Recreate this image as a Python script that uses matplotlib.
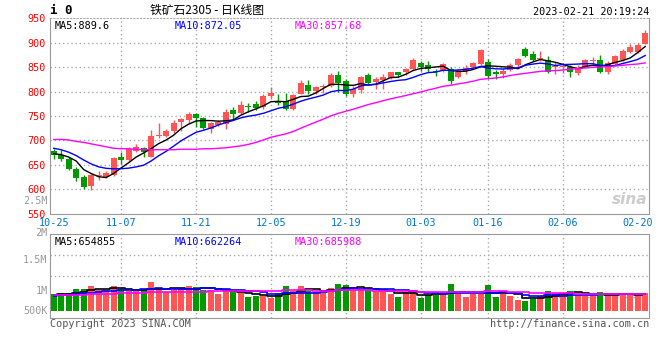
import matplotlib
matplotlib.use('Agg')
import matplotlib.pyplot as plt
from matplotlib.transforms import blended_transform_factory
import numpy as np
import pandas as pd

plt.rcParams['font.family'] = ['DejaVu Sans Mono', 'Noto Sans CJK SC']

# trading days of the contract window (exchange closed on these weekdays)
holidays = ['2023-01-02', '2023-01-23', '2023-01-24', '2023-01-25', '2023-01-26', '2023-01-27']
days = pd.bdate_range('2022-10-25', '2023-02-21')
days = days[~days.isin(pd.to_datetime(holidays))]

open_ = [679, 670, 662, 641, 626, 607, 627, 626, 629, 666,
         661, 679, 685, 667, 710, 709, 719, 738, 742, 755,
         746, 724, 732, 734, 762, 757, 771, 775, 768, 790,
         779, 780, 765, 796, 813, 802, 809, 812, 834, 822,
         795, 804, 834, 820, 824, 828, 839, 839, 847, 859,
         855, 843, 845, 847, 829, 843, 851, 856, 860, 839,
         835, 845, 854, 887, 877, 867, 864, 850, 851, 851,
         838, 850, 863, 865, 841, 856, 864, 880, 880, 898]
high = [683, 680, 667, 645, 629, 634, 638, 638, 667, 677,
        687, 692, 687, 722, 736, 723, 742, 745, 759, 757,
        747, 737, 741, 764, 769, 780, 776, 780, 794, 810,
        794, 798, 795, 824, 824, 812, 815, 837, 842, 826,
        811, 832, 838, 829, 836, 841, 841, 849, 869, 863,
        862, 847, 859, 850, 847, 855, 860, 886, 866, 844,
        849, 858, 869, 891, 882, 883, 872, 861, 858, 855,
        854, 866, 870, 874, 863, 875, 886, 897, 900, 926]
low = [663, 658, 640, 618, 600, 599, 620, 624, 627, 652,
       657, 676, 667, 667, 706, 708, 716, 720, 736, 728,
       723, 715, 729, 723, 742, 755, 759, 762, 765, 784,
       773, 762, 762, 794, 794, 795, 798, 810, 800, 790,
       788, 798, 814, 806, 806, 825, 830, 834, 844, 843,
       840, 832, 839, 815, 828, 835, 848, 853, 826, 825,
       827, 843, 850, 870, 863, 862, 837, 836, 837, 829,
       833, 848, 852, 837, 836, 854, 862, 878, 878, 897]
close = [670, 662, 642, 623, 605, 630, 629, 634, 665, 661,
         683, 687, 676, 709, 712, 720, 736, 743, 755, 745,
         725, 735, 737, 759, 755, 773, 769, 767, 790, 797,
         777, 765, 792, 818, 801, 810, 811, 834, 818, 794,
         806, 830, 818, 826, 830, 839, 834, 847, 865, 851,
         847, 841, 856, 822, 840, 849, 858, 884, 832, 836,
         843, 855, 867, 873, 865, 868, 841, 852, 852, 840,
         849, 864, 864, 841, 858, 872, 882, 891, 896, 920]
# volume in thousands of lots
vol_k = [676, 717, 717, 879, 879, 1000, 826, 826, 1000, 879,
         786, 786, 838, 1162, 919, 757, 838, 919, 1000, 960,
         838, 838, 676, 838, 757, 717, 555, 595, 595, 514,
         717, 1000, 798, 1000, 798, 757, 717, 919, 1081, 1041,
         879, 838, 838, 798, 798, 676, 555, 757, 757, 514,
         636, 636, 757, 1081, 717, 555, 676, 676, 1041, 555,
         676, 595, 433, 393, 474, 595, 798, 717, 717, 798,
         676, 595, 595, 757, 636, 636, 676, 636, 636, 717]

# MA values before the window has enough days
ma5_head = [673, 671, 666, 658]
ma10_head = [684, 681, 676, 669, 660, 652, 646, 643, 642]
ma30_head = [702, 702, 701, 698, 696, 693, 690, 687, 684, 683,
             683, 682, 681, 681, 681, 681, 681, 682, 682, 682,
             683, 683, 684, 685, 687, 689, 692, 696, 701]
vma5_head = [650, 670, 690, 720]
vma10_head = [600, 620, 640, 670, 700, 730, 760, 790, 815]
vma30_head = [624, 624, 624, 624, 630, 664, 664, 664, 670, 717,
              717, 717, 730, 757, 757, 757, 757, 757, 757, 757,
              765, 786, 786, 786, 786, 786, 786, 790, 800]

date_labels = ['10-25', '11-07', '11-21', '12-05', '12-19', '01-03', '01-16', '02-06', '02-20']
price_ticks = [550, 600, 650, 700, 750, 800, 850, 900, 950]
vol_labels = ['2.5M', '2M', '1.5M', '1M', '500K']
vol_label_pos = [4.44e6, 3.15e6, 2.05e6, 0.80e6, 0.0]

RED = '#FF5555'
GREEN = '#009900'
GRID = '#AAAAAA'
FRAME = '#999999'
DOT = (0, (1, 2))


def moving(values, n, head):
    s = pd.Series(values, dtype=float).rolling(n).mean()
    s.iloc[:n - 1] = head
    return s.values


W, H = 660, 360
fig = plt.figure(figsize=(W / 100, H / 100), dpi=100)
ax = fig.add_axes([50 / W, (H - 213.8) / H, 599 / W, 195.6 / H])
axv = fig.add_axes([50 / W, (H - 318) / H, 599 / W, 84 / H])

x = np.arange(len(days))
o = np.array(open_, dtype=float)
c = np.array(close, dtype=float)
colors = np.where(c >= o, RED, GREEN)

# price panel
for p in price_ticks[1:-1]:
    ax.axhline(p, color=GRID, lw=1, ls=DOT, zorder=0)
day_str = days.strftime('%m-%d')
label_pos = [list(day_str).index(d) for d in date_labels]
for i in label_pos[1:-1]:
    ax.axvline(i, color=GRID, lw=1, ls=DOT, zorder=0)

ax.vlines(x, low, high, colors=colors, lw=1, zorder=2)
ax.bar(x, np.maximum(np.abs(c - o), 1.6), bottom=np.minimum(o, c), width=0.8,
       color=colors, linewidth=0, zorder=3)
ax.plot(x, moving(close, 5, ma5_head), color='black', lw=1, zorder=4)
ax.plot(x, moving(close, 10, ma10_head), color='#0000FF', lw=1, zorder=4)
ax.plot(x, moving(close, 30, ma30_head), color='#FF00FF', lw=1, zorder=4)

ax.set_xlim(-0.5, len(x) - 0.5)
ax.set_ylim(550, 950)
ax.set_yticks(price_ticks, [str(p) for p in price_ticks])
ax.set_xticks(label_pos, date_labels)
ax.tick_params(axis='y', length=0, pad=3, labelsize=7.3, labelcolor='#FF0000')
ax.tick_params(axis='x', length=0, pad=3, labelsize=7.3, labelcolor='#0077CC')
for s in ax.spines.values():
    s.set_color(FRAME)
ax.spines['top'].set_linestyle(DOT)
ax.spines['top'].set_color(GRID)

ax.text(0.008, 0.985, 'MA5:889.6', transform=ax.transAxes, fontsize=7.3, color='black', va='top')
ax.text(0.208, 0.985, 'MA10:872.05', transform=ax.transAxes, fontsize=7.3, color='#0000FF', va='top')
ax.text(0.408, 0.985, 'MA30:857.68', transform=ax.transAxes, fontsize=7.3, color='#FF00FF', va='top')
ax.text(0.998, 0.035, 'sina', transform=ax.transAxes, fontsize=11, color='#CCCCCC',
        ha='right', va='bottom', style='italic', weight='bold', family='DejaVu Sans')

# volume panel
v = np.array(vol_k, dtype=float) * 1000
vlo, vhi = -0.296e6, 3.106e6
for f in (0.25, 0.5, 0.75):
    axv.axhline(vlo + f * (vhi - vlo), color=GRID, lw=1, ls=DOT, zorder=0)
for i in label_pos[1:-1]:
    axv.axvline(i, color=GRID, lw=1, ls=DOT, zorder=0)
axv.bar(x, v, width=0.8, color=colors, linewidth=0, zorder=2)
axv.plot(x, moving(v, 5, np.array(vma5_head) * 1000), color='black', lw=1.2, zorder=3,
         drawstyle='steps-mid')
axv.plot(x, moving(v, 10, np.array(vma10_head) * 1000), color='#0000FF', lw=1.2, zorder=3,
         drawstyle='steps-mid')
axv.plot(x, moving(v, 30, np.array(vma30_head) * 1000), color='#FF00FF', lw=1.2, zorder=3,
         drawstyle='steps-mid')
axv.set_xlim(-0.5, len(x) - 0.5)
axv.set_ylim(vlo, vhi)
axv.set_xticks([])
axv.set_yticks([])
for s in axv.spines.values():
    s.set_color(FRAME)

tr = blended_transform_factory(axv.transAxes, axv.transData)
for lab, pos in zip(vol_labels, vol_label_pos):
    axv.text(-0.004, pos, lab, transform=tr, ha='right', va='center', fontsize=7.3,
             color='#999999', clip_on=False)

axv.text(0.008, 0.97, 'MA5:654855', transform=axv.transAxes, fontsize=7.3, color='black', va='top')
axv.text(0.208, 0.97, 'MA10:662264', transform=axv.transAxes, fontsize=7.3, color='#0000FF', va='top')
axv.text(0.408, 0.97, 'MA30:685988', transform=axv.transAxes, fontsize=7.3, color='#FF00FF', va='top')

# header and footer
fig.text(50 / W, 1 - 11 / H, 'i 0', fontsize=9, weight='bold', va='center', ha='left')
fig.text(207 / W, 1 - 10 / H, '铁矿石2305 - 日K线图', fontsize=8.5, va='center', ha='center',
         family=['Noto Sans CJK SC', 'DejaVu Sans'])
fig.text(649 / W, 1 - 12 / H, '2023-02-21 20:19:24', fontsize=7.3, va='center', ha='right')
fig.text(50 / W, 1 - 324 / H, 'Copyright 2023 SINA.COM', fontsize=7.3, va='center', ha='left',
         color='#555555')
fig.text(649 / W, 1 - 324 / H, 'http://finance.sina.com.cn', fontsize=7.3, va='center', ha='right',
         color='#555555')

fig.savefig('out.png', dpi=100, facecolor='white')
